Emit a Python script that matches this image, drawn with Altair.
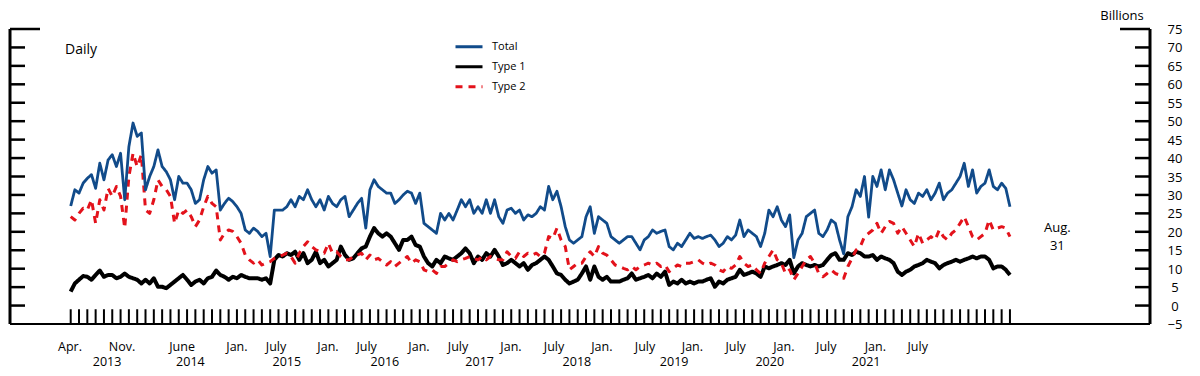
import altair as alt
import pandas as pd

# x = months since April 2013 (0) through Aug. 2022 (113), read every half month
months = [i / 2 for i in range(227)]

total = [
    27, 31.4, 30.5, 33.2, 34.5, 35.5, 31.8, 38.6, 34.1, 39.5, 40.9, 37.7, 41.3, 28.7, 43.1, 49.5,
    45.9, 46.8, 31.4, 35, 37.7, 42.2, 37.7, 36.3, 34.1, 28.7, 35, 33.2, 33.2, 31.4, 27.7, 28.7,
    34.1, 37.7, 35.9, 36.8, 25.9, 27.7, 29.1, 28.2, 26.8, 25, 20.5, 19.6, 21, 20.1, 18.7, 19.6,
    13.3, 25.9, 25.9, 25.9, 26.8, 28.7, 26.8, 29.6, 28.7, 31.4, 28.7, 26.8, 28.7, 25.9, 29.6, 27.7,
    26.8, 28.7, 29.6, 24.1, 25.9, 27.7, 29.1, 21, 31.4, 34.1, 32.3, 31.4, 30.5,
    30.5, 27.7, 28.7, 30, 31, 30.5, 27.7, 30.5, 22.3, 21.4, 20.5, 19.6, 25, 23.2, 25, 23.2,
    25.9, 28.7, 26.8, 28.7, 25, 26.8, 25, 28.7, 25, 28.7, 24.1, 22.3, 25.9, 26.4, 25, 25.9,
    23.2, 24.6, 24.1, 25, 26.8, 25.9, 32.3, 28.7, 31, 26.8, 21.4, 17.8, 16.9, 17.8, 18.7, 24.1,
    26.8, 19.6, 24.1, 23.2, 22.3, 18.7, 17.8, 16.9, 17.8, 18.7, 18.7, 16.9, 15.1, 17.8, 18.7, 20.5,
    19.6, 20.1, 20.5, 16, 15.1, 16.9, 16, 17.8, 19.6, 18.2, 18.7, 18.2, 18.7, 19.1, 17.8,
    16, 16.9, 18.7, 17.8, 19.1, 23.2, 18.7, 20.5, 19.6, 18.7, 16, 19.6, 25.9, 24.1, 26.8, 23.2,
    21.4, 24.6, 13, 17.8, 19.6, 24.1, 25, 25.9, 19.6, 18.7, 20.5, 23.2, 22.3, 17.8, 14, 24.1,
    26.8, 31.4, 29.6, 35, 24, 35, 32.3, 36.8, 31.4, 36.8, 34.1, 30.5, 27, 31.4, 28.7, 27.7,
    30.5, 29.6, 31.4, 28.7, 30.5, 33.2, 28.7, 30.5, 31.4, 33.2, 35, 38.6, 32.3, 36.8, 30.5, 32.3,
    33.2, 36.8, 32.3, 31.4, 33.2, 31.8, 26.8,
]

type1 = [
    3.8, 6, 7, 8, 7.8, 7, 8.3, 9.5, 7.8, 8.3, 8.3, 7.4, 7.8, 8.7, 7.8, 7.4,
    7, 6, 7, 6, 7.4, 5.1, 5.1, 4.7, 5.6, 6.5, 7.4, 8.3, 7, 5.6, 6.5, 7,
    6, 7.4, 7.8, 9.5, 8.3, 7.8, 7, 7.8, 7.4, 8.3, 7.8, 7.4, 7.4, 7.4, 7, 7.4,
    6, 12.4, 13.7, 13.3, 14.2, 13.7, 14.6, 12.4, 14.2, 11.5, 12.4, 14.6, 11.5, 12.4, 10.6, 11.5,
    12.4, 16, 13.7, 12.4, 12.8, 14.2, 15.5, 16, 18.7, 21, 19.6, 18.7, 19.6,
    18.7, 16.9, 15.1, 17.8, 17.8, 18.7, 16.4, 16, 13.3, 11.5, 10.6, 12.4, 11.5, 13.3, 12.8, 12.4,
    13.3, 14.2, 15.5, 14.2, 11.5, 13.3, 12.4, 14.2, 13.3, 15.1, 13.3, 11, 11.5, 12.4, 11.5, 10.6,
    11.5, 9.7, 11, 11.5, 12.4, 13.3, 12.4, 10.6, 8.7, 8.3, 7, 6, 6.5, 7, 8.7, 10.6,
    7, 10.6, 7.8, 7, 7.8, 6.5, 6.5, 6.5, 7, 7.4, 8.7, 7, 7.4, 7.8, 8.3, 7.4,
    8.7, 7.8, 9.2, 5.6, 6.5, 6, 7, 6, 6.5, 6, 6.5, 6.5, 7, 7.4, 5.1,
    6.5, 6, 7, 7.4, 7.8, 9.7, 8.3, 8.7, 9.2, 8.7, 7.8, 10.6, 10.1, 10.6, 11, 11.5,
    11, 12.4, 8.7, 10.6, 11.5, 11, 10.6, 11, 10.6, 11, 12.4, 13.7, 14.2, 12.4, 12.4, 14.2,
    13.7, 14.6, 14.2, 13.3, 13.3, 13.7, 12.4, 13.3, 12.8, 12.4, 11.5, 9.2, 8.3, 9.2, 9.7, 10.6,
    11, 11.5, 12.4, 11.9, 11.5, 10.1, 11, 11.5, 11.9, 12.4, 11.9, 12.4, 12.8, 13.3, 12.8, 13.3,
    13.3, 12.4, 10.1, 10.6, 10.6, 9.7, 8.3,
]

type2 = [
    24.1, 23.2, 25, 26.4, 25.9, 28.7, 22.3, 28.7, 25.9, 31.8, 29.6, 32.3, 29.6, 21, 35, 41.3,
    37.7, 40.9, 25.9, 25, 28.7, 34.1, 32.3, 31.4, 29.6, 22.3, 25.9, 25, 25.9, 24.1, 21.4, 23.2,
    26.8, 29.6, 27.7, 26.8, 17.8, 19.6, 20.5, 20.1, 18.7, 16.9, 13.7, 12.4, 11.5, 12.4, 11, 11.5,
    11.9, 12.8, 13.3, 13.7, 14.2, 13.3, 11.5, 14.2, 16, 17.3, 16, 15.1, 14.6, 14.2, 16.9, 14.2,
    14.6, 13.3, 12.4, 12.4, 13.3, 13.7, 14.2, 12.4, 13.7, 12.4, 12.8, 11.9, 11,
    11.9, 10.6, 11.5, 12.4, 13.3, 11.5, 12.4, 11.9, 9.7, 9.2, 9.7, 8.7, 10.6, 10.6, 11.5, 12.4,
    11.9, 12.4, 12.8, 13.3, 12.8, 12.4, 13.3, 12.4, 13.3, 12.8, 12.4, 12.4, 14.6, 13.3, 12.8, 14.6,
    13.3, 14.2, 13.7, 14.2, 13.3, 14.2, 18.7, 18.2, 21, 17.8, 16, 9.7, 10.6, 11.5, 11.5, 13.3,
    14.6, 13.3, 16, 14.2, 13.7, 12.4, 11, 10.6, 10.1, 9.7, 10.6, 9.7, 10.6, 11, 11.5, 11,
    11.5, 10.6, 11, 9.2, 10.1, 11, 10.6, 11.5, 11.5, 11.9, 12.4, 11.5, 11, 11.5, 11,
    9.7, 9.2, 10.6, 10.1, 11, 13.3, 11.5, 10.6, 11, 9.7, 8.7, 11.5, 13.3, 15.1, 12.4, 11.5,
    8.7, 9.7, 7, 8.7, 10.6, 12.4, 13.3, 11.5, 8.7, 7.8, 8.7, 9.7, 8.7, 8.3, 7.4, 10.6,
    12.8, 15.1, 16, 18.7, 19.6, 20.5, 22.3, 19.6, 21.4, 22.8, 22.3, 19.6, 21.4, 19.6, 17.8, 16,
    19.6, 16.9, 17.8, 18.7, 17.8, 20.5, 18.7, 17.8, 19.6, 20.5, 22.3, 24.1, 21.4, 18.7, 17.8, 18.7,
    19.6, 23.2, 20.5, 21, 21.4, 21, 18.7,
]

series_names = ["Total", "Type 1", "Type 2"]
series_colors = ["#114B8A", "#000000", "#E3121B"]
series_dash = [[1, 0], [1, 0], [7, 6]]

y_ticks = list(range(-5, 80, 5))
tick_months = list(range(0, 114))

month_labels = ["Apr.", "Nov.", "June", "Jan.", "July", "Jan.", "July", "Jan.", "July", "Jan.",
                "July", "Jan.", "July", "Jan.", "July", "Jan.", "July", "Jan.", "July"]
month_label_pos = [-0.08, 6.17, 13.4, 20.0, 24.7, 30.95, 35.6, 41.9, 46.6, 52.97,
                   58.15, 63.9, 69.1, 74.8, 80.0, 85.8, 90.9, 96.8, 101.9]
year_labels = ["2013", "2014", "2015", "2016", "2017", "2018", "2019", "2020", "2021"]
year_label_pos = [4.38, 14.4, 26.0, 37.8, 49.2, 60.9, 72.6, 84.1, 95.7]

FONT = "Open Sans"
W, H = 1140, 295
XDOM = [-7.303, 129.85]
YDOM = [-5, 75]

rows = []
for name, vals in zip(series_names, [total, type1, type2]):
    for m, v in zip(months, vals):
        rows.append({"m": m, "v": v, "series": name})
df = pd.DataFrame(rows)

xs = alt.Scale(domain=XDOM, nice=False, zero=False)
ys = alt.Scale(domain=YDOM, nice=False, zero=False)

legend = alt.Legend(
    orient="none", legendX=444, legendY=8, title=None, symbolType="stroke",
    symbolSize=729, symbolStrokeWidth=3, labelFont=FONT, labelFontSize=11,
    labelColor="black", labelOffset=8, rowPadding=0, clipHeight=19.5, padding=0,
)
color = alt.Color("series:N", scale=alt.Scale(domain=series_names, range=series_colors), legend=legend)
dash = alt.StrokeDash("series:N", scale=alt.Scale(domain=series_names, range=series_dash), legend=legend)


def line_layer(name, width):
    return alt.Chart(df).transform_filter(alt.datum.series == name).mark_line(
        strokeWidth=width, strokeJoin="round"
    ).encode(
        x=alt.X("m:Q", scale=xs, axis=None),
        y=alt.Y("v:Q", scale=ys, axis=None),
        color=color,
        strokeDash=dash,
    )


lines = [line_layer("Type 1", 4), line_layer("Type 2", 3), line_layer("Total", 2.8)]

ytick_df = pd.DataFrame({"v": y_ticks})
yenc = alt.Y("v:Q", scale=ys, axis=None)

left_short = alt.Chart(ytick_df).transform_filter("datum.v < 75 && datum.v > -5").mark_rule(
    color="black", strokeWidth=2.5).encode(y=yenc, x=alt.value(0), x2=alt.value(15))
left_long = alt.Chart(ytick_df).transform_filter("datum.v == 75").mark_rule(
    color="black", strokeWidth=2.5).encode(y=yenc, x=alt.value(0), x2=alt.value(30))
right_short = alt.Chart(ytick_df).transform_filter("datum.v < 75 && datum.v > -5").mark_rule(
    color="black", strokeWidth=2.5).encode(y=yenc, x=alt.value(W - 15), x2=alt.value(W))
right_long = alt.Chart(ytick_df).transform_filter("datum.v == 75").mark_rule(
    color="black", strokeWidth=2.5).encode(y=yenc, x=alt.value(W - 30), x2=alt.value(W))
right_labels = alt.Chart(ytick_df).mark_text(
    font=FONT, fontSize=13, align="center", baseline="middle", dy=1).encode(
    y=yenc, x=alt.value(W + 25), text=alt.Text("v:Q"))

vline_df = pd.DataFrame({"top": [75], "bot": [-5]})
left_line = alt.Chart(vline_df).mark_rule(color="black", strokeWidth=3).encode(
    x=alt.value(0), y=alt.Y("top:Q", scale=ys, axis=None), y2="bot:Q")
right_line = alt.Chart(vline_df).mark_rule(color="black", strokeWidth=3).encode(
    x=alt.value(W), y=alt.Y("top:Q", scale=ys, axis=None), y2="bot:Q")
bottom_line = alt.Chart(vline_df).mark_rule(color="black", strokeWidth=2).encode(
    x=alt.value(0), x2=alt.value(W), y=alt.Y("bot:Q", scale=ys, axis=None))

xtick_df = pd.DataFrame({"m": tick_months, "lo": [-5] * len(tick_months), "hi": [-1] * len(tick_months)})
xticks = alt.Chart(xtick_df).mark_rule(color="black", strokeWidth=2).encode(
    x=alt.X("m:Q", scale=xs, axis=None), y=alt.Y("lo:Q", scale=ys, axis=None), y2="hi:Q")

mlab_df = pd.DataFrame({"m": month_label_pos, "t": month_labels})
mlabels = alt.Chart(mlab_df).mark_text(font=FONT, fontSize=12.5, align="center", baseline="middle").encode(
    x=alt.X("m:Q", scale=xs, axis=None), y=alt.value(H + 23), text="t:N")
ylab_df = pd.DataFrame({"m": year_label_pos, "t": year_labels})
ylabels = alt.Chart(ylab_df).mark_text(font=FONT, fontSize=12.5, align="center", baseline="middle").encode(
    x=alt.X("m:Q", scale=xs, axis=None), y=alt.value(H + 38), text="t:N")

ann_df = pd.DataFrame({"m": [118.7, 118.7], "v": [21.1, 16.2], "t": ["Aug.", "31"]})
ann = alt.Chart(ann_df).mark_text(font=FONT, fontSize=13, align="center", baseline="middle").encode(
    x=alt.X("m:Q", scale=xs, axis=None), y=alt.Y("v:Q", scale=ys, axis=None), text="t:N")

note_df = pd.DataFrame({"t": ["Billions"]})
billions = alt.Chart(note_df).mark_text(font=FONT, fontSize=13, align="center", baseline="middle").encode(
    x=alt.value(W - 28), y=alt.value(-13), text="t:N")
daily_df = pd.DataFrame({"t": ["Daily"]})
daily = alt.Chart(daily_df).mark_text(font=FONT, fontSize=14, align="left", baseline="middle").encode(
    x=alt.value(55), y=alt.value(21), text="t:N")

chart = alt.layer(
    xticks, left_short, left_long, right_short, right_long, left_line, right_line, bottom_line,
    *lines, right_labels, mlabels, ylabels, ann, billions, daily,
).properties(
    width=W, height=H,
    padding={"left": 10, "top": 29, "right": 50, "bottom": 52},
    autosize=alt.AutoSizeParams(type="none"),
    background="white",
).configure_view(stroke=None)

chart.save("out.html", embed_options={"renderer": "svg", "actions": False})
